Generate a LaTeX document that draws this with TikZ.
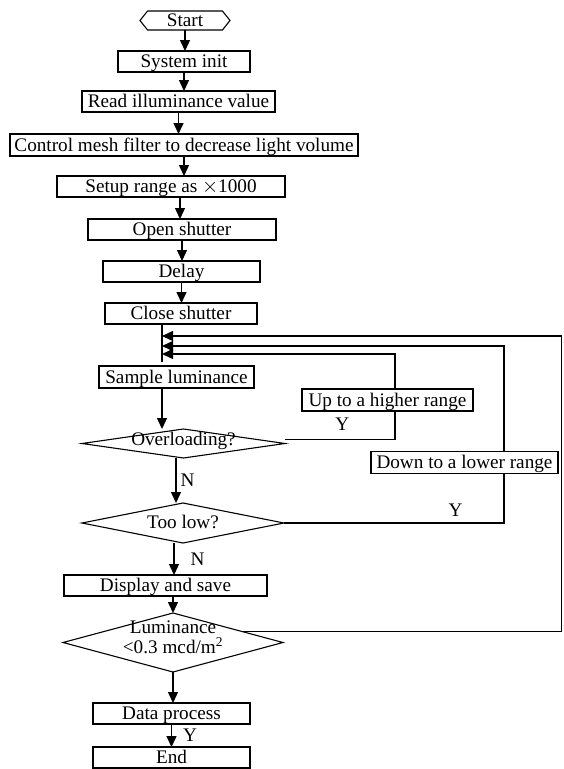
\documentclass[tikz,border=0pt]{standalone}
\usepackage{fontspec}
\setmainfont{Liberation Serif}
\usetikzlibrary{arrows.meta,shapes.geometric,shapes.symbols,positioning,calc}

\begin{document}
\begin{tikzpicture}[font=\fontsize{19.2}{20}\selectfont,
    process/.style = {shape=rectangle, draw, line width=1.1pt, fill=white,
        inner sep=0pt, outer sep=0pt, minimum height=21pt,
        text height=15pt, text depth=2.3pt},
    decision/.style = {shape=diamond, draw, line width=1.1pt, inner sep=0pt,
        outer sep=0pt},
    terminal/.style = {shape=signal, signal to=west and east,
        signal pointer angle=103, draw, line width=1.1pt, inner sep=0pt,
        outer sep=0pt, minimum width=90pt, minimum height=19pt,
        text height=14.5pt, text depth=2.3pt},
    flow/.style={-{Triangle[length=11pt,width=10pt]}, line width=1.4pt},
    link/.style={line width=1.4pt},
    lbl/.style={inner sep=0pt}]

  \useasboundingbox (0,0) rectangle (563pt,-769pt);

  % main chain
  \node [terminal] (start) at (185pt,-20.5pt) {Start};
  \node [process, minimum width=132pt] (init) [below=21pt of start, xshift=-1pt] {System init};
  \node [process, minimum width=193pt] (read) [below=19pt of init, xshift=-5.5pt] {Read illuminance value};
  \node [process, minimum width=348pt, minimum height=22pt] (mesh) [below=22pt of read, xshift=5.5pt] {Control mesh filter to decrease light volume};
  \node [process, minimum width=228pt] (setup) [below=20pt of mesh, xshift=-13pt] {Setup range as $\times$1000};
  \node [process, minimum width=188pt] (open) [below=22pt of setup, xshift=11pt] {Open shutter};
  \node [process, minimum width=157pt] (delay) [below=21pt of open, xshift=-0.5pt] {Delay};
  \node [process, minimum width=152pt] (close) [below=21pt of delay, xshift=-0.5pt] {Close shutter};
  \node [process, minimum width=155pt, minimum height=22pt] (sample) [below=42pt of close, xshift=-4.5pt] {Sample luminance};
  \node [decision, minimum width=203pt, minimum height=29pt,
    label={[yshift=3pt]center:Overloading?}] (over) [below=41pt of sample, xshift=7pt] {};
  \node [decision, minimum width=202pt, minimum height=40pt,
    label={[yshift=1pt]center:Too low?}] (low) [below=45pt of over, xshift=-0.5pt] {};
  \node [process, minimum width=203pt] (disp) [below=32pt of low, xshift=-17.5pt] {Display and save};
  \node [decision, minimum width=220pt, minimum height=59pt,
    label={[align=center, yshift=5pt]center:{Luminance\\<0.3 mcd/m\textsuperscript{2}}}] (lum) [below=17pt of disp, xshift=7.5pt] {};
  \node [process, minimum width=157pt] (data) [below=31pt of lum, xshift=-1.5pt] {Data process};
  \node [process, minimum width=157pt] (end) [below=23pt of data] {End};

  % range change boxes
  \node [process, minimum width=171pt, minimum height=22pt] (up) [right=48pt of sample, yshift=-23pt] {Up to a higher range};
  \node [process, minimum width=187pt, minimum height=22pt] (down) [right=86pt of over, yshift=-19pt] {Down to a lower range};

  % collecting line under close shutter
  \coordinate (bus) at ([xshift=-19pt]close.south);
  \coordinate (in1) at ([yshift=-12pt]bus);
  \coordinate (in2) at ([yshift=-22pt]bus);
  \coordinate (in3) at ([yshift=-30pt]bus);
  \coordinate (rim) at ([xshift=399.5pt]in1);

  \draw[flow] (start.south) -- (start.south |- init.north);
  \draw[flow] (init.south) -- (init.south |- read.north);
  \draw[flow] (read.south) -- (read.south |- mesh.north);
  \draw[flow] (mesh.south) -- (mesh.south |- setup.north);
  \draw[flow] ([xshift=9pt]setup.south) -- ([xshift=9pt]setup.south |- open.north);
  \draw[flow] (open.south) -- (open.south |- delay.north);
  \draw[flow] (delay.south) -- (delay.south |- close.north);
  \draw[link] (bus) -- ([yshift=4pt]bus |- sample.north);
  \draw[flow] (bus |- sample.south) -- (bus |- over.north);
  \draw[flow] ([xshift=-7.5pt]over.south) -- node[lbl, right=4pt] {N} ([xshift=-7.5pt]over.south |- low.north);
  \draw[flow] ([xshift=-9pt]low.south) -- node[lbl, right=16pt] {N} ([xshift=-9pt]low.south |- disp.north);
  \draw[flow] (lum.north |- disp.south) -- (lum.north);
  \draw[flow] (lum.south) -- (lum.south |- data.north);
  \draw[flow] (data.south) -- node[lbl, right=11pt] {Y} (end.north);

  % loops back
  \draw[link] ([yshift=4pt]over.east) -| node[lbl, pos=0.26, above=8pt] {Y} ([xshift=7.5pt]up.south);
  \draw[flow] ([xshift=7.5pt]up.north) |- (in3);
  \draw[link] (low.east) -| node[lbl, pos=0.39, above=6pt] {Y} ([xshift=39.5pt]down.south);
  \draw[flow] ([xshift=39.5pt]down.north) |- (in2);
  \draw[flow] (lum.9) -| (rim) -- (in1);
\end{tikzpicture}
\end{document}
